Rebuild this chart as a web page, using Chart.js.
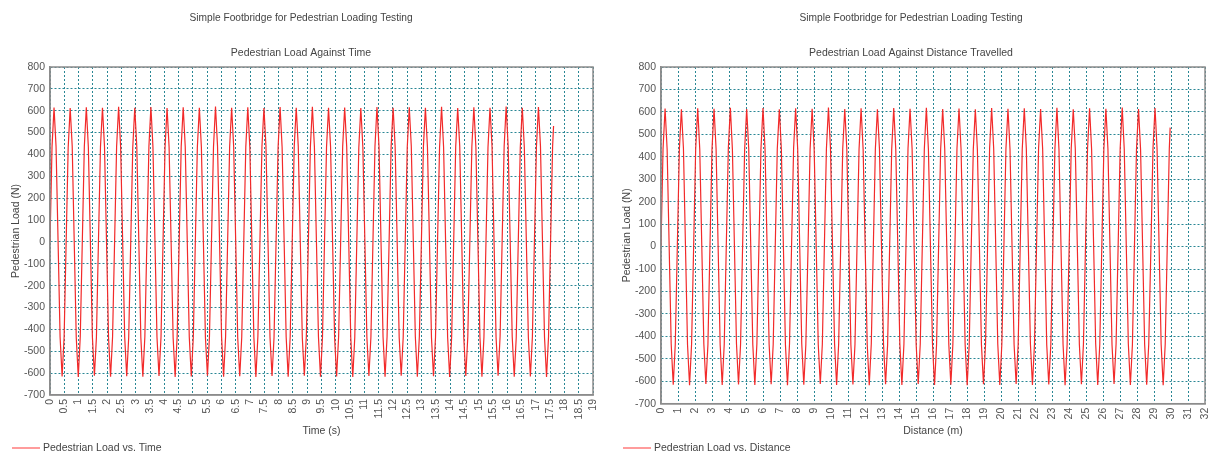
<!DOCTYPE html>
<html>
<head>
<meta charset="utf-8">
<title>Simple Footbridge for Pedestrian Loading Testing</title>
<script src="https://cdn.jsdelivr.net/npm/chart.js@4.4.1/dist/chart.umd.min.js"></script>
<style>
  body { margin: 0; background: #fff; }
  #wrap { position: relative; width: 1215px; height: 453px; }
  #timeChart { position: absolute; left: 0; top: 0; }
  #distChart { position: absolute; left: 611px; top: 0; }
</style>
</head>
<body>
<div id="wrap">
  <canvas id="timeChart" width="607" height="453"></canvas>
  <canvas id="distChart" width="604" height="453"></canvas>
</div>
<script>
// chart text
var mainTitle = "Simple Footbridge for Pedestrian Loading Testing";
var timeSubtitle = "Pedestrian Load Against Time";
var distSubtitle = "Pedestrian Load Against Distance Travelled";
var timeLegend = "Pedestrian Load vs. Time";
var distLegend = "Pedestrian Load vs. Distance";
var timeAxisTitle = "Time (s)";
var distAxisTitle = "Distance (m)";
var loadAxisTitle = "Pedestrian Load (N)";

// axis ranges / tick steps
var loadTicks = [-700, 800, 100];
var timeTicks = [0, 19, 0.5];
var distTicks = [0, 32, 1];

// time of each sample (s), one row per footstep cycle
var times = [
  0, 0.071, 0.141, 0.212, 0.283, 0.353, 0.424, 0.494,
  0.565, 0.636, 0.706, 0.777, 0.848, 0.918, 0.989, 1.059,
  1.13, 1.201, 1.271, 1.342, 1.413, 1.483, 1.554, 1.624,
  1.695, 1.766, 1.836, 1.907, 1.978, 2.048, 2.119, 2.189,
  2.26, 2.331, 2.401, 2.472, 2.543, 2.613, 2.684, 2.754,
  2.825, 2.896, 2.966, 3.037, 3.108, 3.178, 3.249, 3.319,
  3.39, 3.461, 3.531, 3.602, 3.673, 3.743, 3.814, 3.884,
  3.955, 4.026, 4.096, 4.167, 4.238, 4.308, 4.379, 4.449,
  4.52, 4.591, 4.661, 4.732, 4.803, 4.873, 4.944, 5.014,
  5.085, 5.156, 5.226, 5.297, 5.368, 5.438, 5.509, 5.579,
  5.65, 5.721, 5.791, 5.862, 5.933, 6.003, 6.074, 6.144,
  6.215, 6.286, 6.356, 6.427, 6.498, 6.568, 6.639, 6.709,
  6.78, 6.851, 6.921, 6.992, 7.063, 7.133, 7.204, 7.274,
  7.345, 7.416, 7.486, 7.557, 7.628, 7.698, 7.769, 7.839,
  7.91, 7.981, 8.051, 8.122, 8.193, 8.263, 8.334, 8.404,
  8.475, 8.546, 8.616, 8.687, 8.758, 8.828, 8.899, 8.969,
  9.04, 9.111, 9.181, 9.252, 9.323, 9.393, 9.464, 9.534,
  9.605, 9.676, 9.746, 9.817, 9.888, 9.958, 10.029, 10.099,
  10.17, 10.241, 10.311, 10.382, 10.453, 10.523, 10.594, 10.664,
  10.735, 10.806, 10.876, 10.947, 11.018, 11.088, 11.159, 11.229,
  11.3, 11.371, 11.441, 11.512, 11.583, 11.653, 11.724, 11.794,
  11.865, 11.936, 12.006, 12.077, 12.148, 12.218, 12.289, 12.359,
  12.43, 12.501, 12.571, 12.642, 12.713, 12.783, 12.854, 12.924,
  12.995, 13.066, 13.136, 13.207, 13.278, 13.348, 13.419, 13.489,
  13.56, 13.631, 13.701, 13.772, 13.843, 13.913, 13.984, 14.054,
  14.125, 14.196, 14.266, 14.337, 14.408, 14.478, 14.549, 14.619,
  14.69, 14.761, 14.831, 14.902, 14.973, 15.043, 15.114, 15.184,
  15.255, 15.326, 15.396, 15.467, 15.538, 15.608, 15.679, 15.749,
  15.82, 15.891, 15.961, 16.032, 16.103, 16.173, 16.244, 16.314,
  16.385, 16.456, 16.526, 16.597, 16.668, 16.738, 16.809, 16.879,
  16.95, 17.021, 17.091, 17.162, 17.233, 17.303, 17.374, 17.444,
  17.515, 17.586, 17.62
];

// distance travelled at each sample (m)
var distances = [
  0, 0.12, 0.24, 0.36, 0.48, 0.6, 0.72, 0.84,
  0.96, 1.08, 1.2, 1.32, 1.44, 1.56, 1.68, 1.8,
  1.92, 2.04, 2.16, 2.28, 2.4, 2.52, 2.64, 2.76,
  2.88, 3.0, 3.12, 3.24, 3.36, 3.48, 3.6, 3.72,
  3.84, 3.96, 4.08, 4.2, 4.32, 4.44, 4.56, 4.68,
  4.8, 4.92, 5.04, 5.16, 5.28, 5.4, 5.52, 5.64,
  5.76, 5.88, 6.0, 6.12, 6.24, 6.36, 6.48, 6.6,
  6.72, 6.84, 6.96, 7.08, 7.2, 7.32, 7.44, 7.56,
  7.68, 7.8, 7.92, 8.04, 8.16, 8.28, 8.4, 8.52,
  8.65, 8.77, 8.89, 9.01, 9.13, 9.25, 9.37, 9.49,
  9.61, 9.73, 9.85, 9.97, 10.09, 10.21, 10.33, 10.45,
  10.57, 10.69, 10.81, 10.93, 11.05, 11.17, 11.29, 11.41,
  11.53, 11.65, 11.77, 11.89, 12.01, 12.13, 12.25, 12.37,
  12.49, 12.61, 12.73, 12.85, 12.97, 13.09, 13.21, 13.33,
  13.45, 13.57, 13.69, 13.81, 13.93, 14.05, 14.17, 14.29,
  14.41, 14.53, 14.65, 14.77, 14.89, 15.01, 15.13, 15.25,
  15.37, 15.49, 15.61, 15.73, 15.85, 15.97, 16.09, 16.21,
  16.33, 16.45, 16.57, 16.69, 16.81, 16.93, 17.05, 17.17,
  17.29, 17.41, 17.53, 17.65, 17.77, 17.89, 18.01, 18.13,
  18.25, 18.37, 18.49, 18.61, 18.73, 18.85, 18.97, 19.09,
  19.21, 19.33, 19.45, 19.57, 19.69, 19.81, 19.93, 20.05,
  20.17, 20.29, 20.41, 20.53, 20.65, 20.77, 20.89, 21.01,
  21.13, 21.25, 21.37, 21.49, 21.61, 21.73, 21.85, 21.97,
  22.09, 22.21, 22.33, 22.45, 22.57, 22.69, 22.81, 22.93,
  23.05, 23.17, 23.29, 23.41, 23.53, 23.65, 23.77, 23.89,
  24.01, 24.13, 24.25, 24.37, 24.49, 24.61, 24.73, 24.85,
  24.97, 25.09, 25.21, 25.33, 25.45, 25.57, 25.69, 25.81,
  25.93, 26.05, 26.17, 26.29, 26.41, 26.53, 26.65, 26.77,
  26.89, 27.01, 27.13, 27.25, 27.37, 27.49, 27.61, 27.73,
  27.85, 27.97, 28.09, 28.21, 28.33, 28.45, 28.57, 28.69,
  28.82, 28.94, 29.06, 29.18, 29.3, 29.42, 29.54, 29.66,
  29.78, 29.9, 29.95
];

// pedestrian load at each sample (N)
var loads = [
  0, 435, 615, 435, 0, -435, -615, -435,
  0, 432, 612, 438, 0, -436, -618, -433,
  0, 436, 616, 434, 0, -434, -612, -437,
  0, 434, 614, 436, 0, -437, -617, -435,
  0, 437, 618, 433, 0, -433, -614, -436,
  0, 433, 613, 437, 0, -436, -616, -434,
  0, 436, 617, 435, 0, -435, -613, -436,
  0, 435, 612, 434, 0, -437, -618, -433,
  0, 438, 616, 436, 0, -434, -615, -437,
  0, 433, 614, 433, 0, -436, -612, -435,
  0, 435, 619, 437, 0, -433, -617, -434,
  0, 437, 613, 435, 0, -437, -614, -436,
  0, 434, 616, 434, 0, -435, -618, -433,
  0, 436, 612, 436, 0, -436, -613, -437,
  0, 433, 617, 433, 0, -434, -616, -435,
  0, 437, 614, 437, 0, -437, -612, -434,
  0, 435, 618, 434, 0, -433, -617, -436,
  0, 434, 613, 436, 0, -436, -615, -433,
  0, 436, 615, 435, 0, -435, -618, -437,
  0, 433, 612, 433, 0, -437, -613, -435,
  0, 438, 617, 437, 0, -434, -616, -434,
  0, 435, 614, 434, 0, -436, -612, -436,
  0, 434, 616, 436, 0, -433, -617, -433,
  0, 437, 613, 435, 0, -437, -614, -437,
  0, 433, 618, 433, 0, -435, -618, -435,
  0, 436, 612, 437, 0, -436, -613, -434,
  0, 435, 616, 434, 0, -434, -616, -436,
  0, 434, 614, 436, 0, -437, -612, -433,
  0, 437, 619, 435, 0, -433, -617, -437,
  0, 433, 613, 433, 0, -436, -615, -435,
  0, 436, 617, 437, 0, -435, -618, -434,
  0, 435, 530
];

var fontFamily = "'Liberation Sans', Arial, sans-serif";
Chart.defaults.font.family = fontFamily;
Chart.defaults.font.size = 10.5;
Chart.defaults.color = "#555";

// draws the grey frame round the plot area (top and right sides too)
var framePlugin = {
  id: "frame",
  afterDraw: function(chart) {
    var a = chart.chartArea;
    var ctx = chart.ctx;
    ctx.save();
    ctx.strokeStyle = "#8c8c8c";
    ctx.lineWidth = 1.5;
    ctx.strokeRect(a.left, a.top, a.right - a.left, a.bottom - a.top);
    ctx.restore();
  }
};

// titles and the legend line are drawn at fixed spots like the original
var headerPlugin = {
  id: "header",
  afterDraw: function(chart, args, opts) {
    var ctx = chart.ctx;
    ctx.save();
    ctx.fillStyle = "#444";
    ctx.font = "10.2px " + fontFamily;
    ctx.textAlign = "center";
    ctx.textBaseline = "middle";
    ctx.fillText(mainTitle, opts.centerX, 18);
    ctx.font = "10.5px " + fontFamily;
    ctx.fillText(opts.subtitle, opts.centerX, 53);
    // legend
    ctx.fillStyle = "#ff9c9c";
    ctx.fillRect(12, 447, 28, 2);
    ctx.fillStyle = "#444";
    ctx.textAlign = "left";
    ctx.fillText(opts.legend, 43, 448);
    ctx.restore();
  }
};

function tickLabel(value) {
  return String(Math.round(value * 10) / 10);
}

// build one chart: the load series against xs
function makeChart(canvasId, xs, xTicks, xTitle, subtitle, legendText, rightPad, centerX) {
  var points = [];
  for (var i = 0; i < xs.length; i++) {
    points.push({ x: xs[i], y: loads[i] });
  }
  var gridColor = "#2a8795";
  return new Chart(document.getElementById(canvasId), {
    type: "line",
    data: {
      datasets: [{
        label: legendText,
        data: points,
        borderColor: "#f22a2a",
        borderWidth: 1.2,
        pointRadius: 0,
        tension: 0,
        fill: false
      }]
    },
    options: {
      responsive: false,
      animation: false,
      events: [],
      layout: { padding: { left: 0, right: rightPad, top: 67, bottom: 16 } },
      plugins: {
        title: { display: false },
        legend: { display: false },
        tooltip: { enabled: false },
        header: { centerX: centerX, subtitle: subtitle, legend: legendText }
      },
      scales: {
        x: {
          type: "linear",
          min: xTicks[0],
          max: xTicks[1],
          ticks: {
            stepSize: xTicks[2],
            autoSkip: false,
            minRotation: 90,
            maxRotation: 90,
            padding: 4,
            color: "#555",
            callback: tickLabel
          },
          grid: {
            color: gridColor,
            lineWidth: 1,
            drawTicks: false,
            tickLength: 0
          },
          border: { color: "#8c8c8c", width: 1.5, dash: [2, 2] },
          title: {
            display: true,
            text: xTitle,
            color: "#444",
            font: { size: 10.5 },
            padding: { top: 1, bottom: 0 }
          },
          // keep the plot edge where the layout padding puts it
          afterFit: function(scale) {
            scale.paddingLeft = 0;
            scale.paddingRight = 0;
          }
        },
        y: {
          min: loadTicks[0],
          max: loadTicks[1],
          ticks: {
            stepSize: loadTicks[2],
            padding: 5,
            color: "#555"
          },
          grid: {
            color: gridColor,
            lineWidth: 1,
            drawTicks: false,
            tickLength: 0
          },
          border: { color: "#8c8c8c", width: 1.5, dash: [2, 2] },
          title: {
            display: true,
            text: loadAxisTitle,
            color: "#444",
            font: { size: 10.5 },
            padding: { top: 10, bottom: 2 }
          },
          afterFit: function(scale) { scale.width = 50; }
        }
      }
    },
    plugins: [framePlugin, headerPlugin]
  });
}

makeChart("timeChart", times, timeTicks, timeAxisTitle, timeSubtitle, timeLegend, 14, 301);
makeChart("distChart", distances, distTicks, distAxisTitle, distSubtitle, distLegend, 10, 300);
</script>
</body>
</html>
